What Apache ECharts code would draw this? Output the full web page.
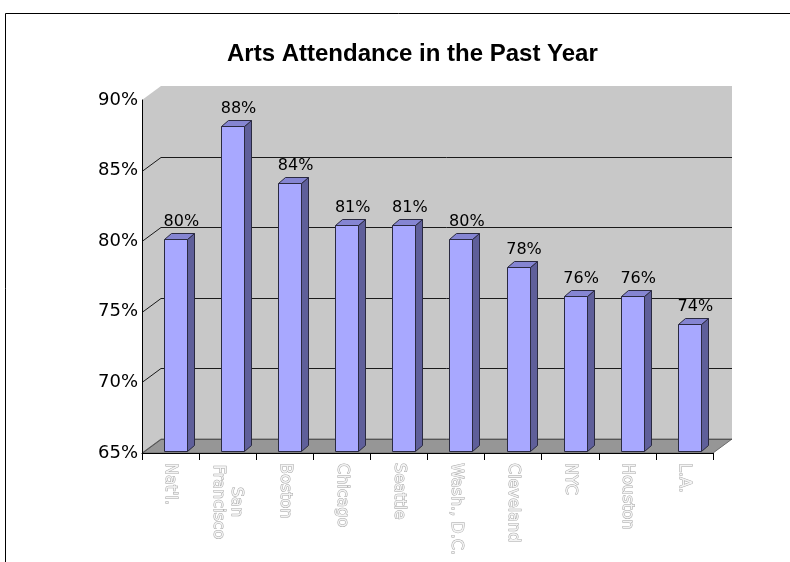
<!DOCTYPE html>
<html>
<head>
<meta charset="utf-8">
<script src="https://cdn.jsdelivr.net/npm/echarts@6/dist/echarts.min.js"></script>
<style>
  html, body { margin: 0; padding: 0; background: #fff; }
  #chart { width: 790px; height: 562px; }
</style>
</head>
<body>
<div id="chart"></div>
<script>
// ---- data ----
const categories = ["Nat'l.", "San\nFrancisco", "Boston", "Chicago", "Seattle", "Wash., D.C.", "Cleveland", "NYC", "Houston", "L.A."];
const values = [80, 88, 84, 81, 81, 80, 78, 76, 76, 74];
const yTicks = [65, 70, 75, 80, 85, 90];
const titleText = "Arts Attendance in the Past Year";

// ---- styling constants ----
const DX = 19, DY = -14;        // wall depth
const BDX = 7, BDY = -6;        // bar depth
const FONT = "'DejaVu Sans', sans-serif";

const chart = echarts.init(document.getElementById('chart'), null, { renderer: 'canvas' });

function renderWall(params, api) {
  if (params.dataIndex !== 0) return;
  const cs = params.coordSys;
  const x0 = cs.x, x1 = cs.x + cs.width;
  const yTop = cs.y, yBot = cs.y + cs.height;
  const children = [];
  children.push({
    type: 'polygon',
    shape: { points: [[x0, yTop], [x0 + DX, yTop + DY], [x1 + DX, yTop + DY], [x1 + DX, yBot + DY], [x1, yBot], [x0, yBot]] },
    style: { fill: '#c8c8c8', stroke: null }
  });
  children.push({
    type: 'polygon',
    shape: { points: [[x0, yBot], [x0 + DX, yBot + DY], [x1 + DX, yBot + DY], [x1, yBot]] },
    style: { fill: '#969696', stroke: '#6e6e6e', lineWidth: 1 }
  });
  yTicks.forEach(function (t) {
    if (t === yTicks[yTicks.length - 1]) return;
    const y = Math.round(api.coord([0, t])[1]) + 0.5;
    children.push({
      type: 'polyline',
      shape: { points: [[x0, y], [x0 + DX, y + DY], [x1 + DX, y + DY]] },
      style: { stroke: t === yTicks[0] ? '#555' : '#1a1a1a', lineWidth: 1, fill: null }
    });
  });
  return { type: 'group', children: children };
}

function renderBar(params, api) {
  const idx = api.value(0);
  const val = api.value(1);
  const slot = api.size([1, 0])[0];
  const pTop = api.coord([idx, val]);
  const pBot = api.coord([idx, yTicks[0]]);
  const w = Math.round(slot * 0.41);
  const left = Math.round(pTop[0] - slot * 0.115) + 0.5;
  const top = Math.round(pTop[1]) - 2 + 0.5;
  const bot = Math.round(pBot[1]) - 2 + 0.5;
  const stroke = '#2a2a40';
  return {
    type: 'group',
    children: [
      {
        type: 'polygon',
        shape: { points: [[left + w, top], [left + w + BDX, top + BDY], [left + w + BDX, bot + BDY], [left + w, bot]] },
        style: { fill: '#5f5f9a', stroke: stroke, lineWidth: 1 }
      },
      {
        type: 'polygon',
        shape: { points: [[left, top], [left + BDX, top + BDY], [left + w + BDX, top + BDY], [left + w, top]] },
        style: { fill: '#8585d2', stroke: stroke, lineWidth: 1 }
      },
      {
        type: 'rect',
        shape: { x: left, y: top, width: w, height: bot - top },
        style: { fill: '#a8a8ff', stroke: stroke, lineWidth: 1 }
      },
      {
        type: 'text',
        style: {
          text: val + '%', x: pTop[0] + slot * 0.19, y: top - 18,
          align: 'center', verticalAlign: 'middle',
          font: '16px ' + FONT, fill: '#000'
        }
      }
    ]
  };
}

const option = {
  animation: false,
  backgroundColor: '#ffffff',
  title: {
    text: titleText,
    left: 222,
    top: 37,
    textStyle: { fontFamily: "'Liberation Sans', Arial, sans-serif", fontWeight: 'bold', fontSize: 24, color: '#000' }
  },
  graphic: [{
    type: 'rect',
    shape: { x: 5.5, y: 13.5, width: 1000, height: 1000 },
    style: { fill: null, stroke: '#000', lineWidth: 1 },
    silent: true
  }],
  grid: { left: 142, top: 100, width: 571, height: 353, containLabel: false },
  xAxis: {
    type: 'category',
    data: categories,
    axisLine: { show: true, lineStyle: { color: '#000', width: 1 } },
    axisTick: { show: true, length: 7, lineStyle: { color: '#000' } },
    axisLabel: {
      interval: 0,
      rotate: -90,
      margin: 10,
      color: '#f4f4f4',
      textBorderColor: '#a4a4a4',
      textBorderWidth: 1,
      fontFamily: FONT,
      fontSize: 16,
      formatter: function (v) {
        if (v.indexOf('\n') >= 0) {
          return v.split('\n').map(function (s) { return '{c|' + s + '}'; }).join('\n');
        }
        return v;
      },
      rich: {
        c: {
          width: 78, align: 'center',
          color: '#f4f4f4', textBorderColor: '#a4a4a4', textBorderWidth: 1,
          fontFamily: FONT, fontSize: 16, lineHeight: 18
        }
      }
    },
    splitLine: { show: false }
  },
  yAxis: {
    type: 'value',
    min: yTicks[0],
    max: yTicks[yTicks.length - 1],
    interval: 5,
    axisLine: { show: true, lineStyle: { color: '#000', width: 1 } },
    axisTick: { show: false },
    splitLine: { show: false },
    axisLabel: {
      formatter: '{value}%',
      margin: 4,
      padding: [4, 0, 0, 0],
      color: '#000',
      fontFamily: FONT,
      fontSize: 18
    }
  },
  series: [
    {
      type: 'custom',
      z: -1,
      silent: true,
      renderItem: renderWall,
      data: [[0, yTicks[0]]],
      encode: { x: 0, y: 1 }
    },
    {
      type: 'custom',
      z: 3,
      renderItem: renderBar,
      data: values.map(function (v, i) { return [i, v]; }),
      encode: { x: 0, y: 1 }
    }
  ]
};
chart.setOption(option);
</script>
</body>
</html>
